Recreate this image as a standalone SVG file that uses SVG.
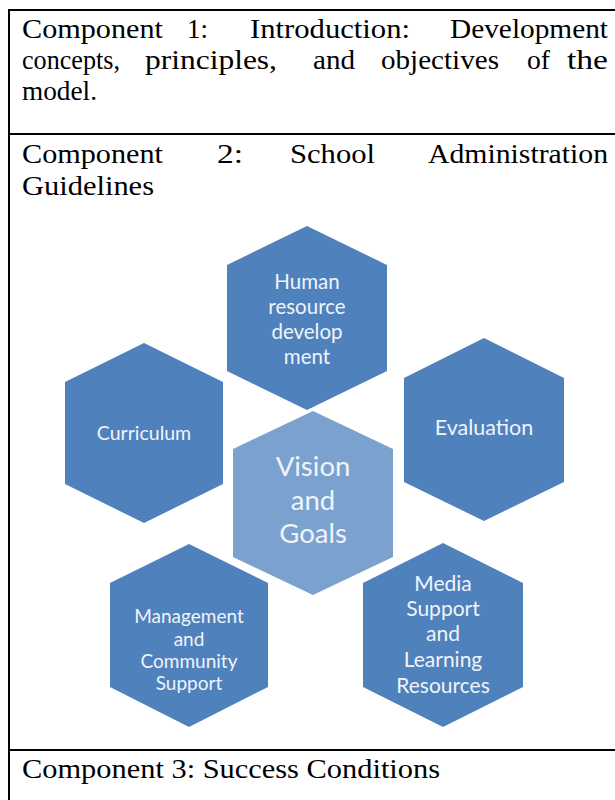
<svg xmlns="http://www.w3.org/2000/svg" width="615" height="800" viewBox="0 0 615 800">
<style>
.frame{stroke:#000;stroke-width:2;fill:none}
.t{font-family:"Liberation Serif","Times New Roman",serif;font-size:28px;fill:#000}
.hex{fill:#4F81BD}
.hexc{fill:#7BA1CE}
.lbl{font-family:Lato,"Open Sans","Liberation Sans",sans-serif;font-size:20.5px;fill:#F0F4FA;text-anchor:middle}
.lblc{font-family:Lato,"Open Sans","Liberation Sans",sans-serif;font-size:27.5px;fill:#F0F4FA;text-anchor:middle}
</style>
<rect width="615" height="800" fill="#fff"/>
<g id="table">
<line class="frame" x1="8" y1="10" x2="615" y2="10"/>
<line class="frame" x1="9" y1="9" x2="9" y2="800"/>
<line class="frame" x1="8" y1="134" x2="615" y2="134"/>
<line class="frame" x1="8" y1="750" x2="615" y2="750"/>
</g>
<g id="row1">
<text class="t" y="38" x="22" textLength="141" lengthAdjust="spacingAndGlyphs">Component</text>
<text class="t" y="38" x="187" textLength="21" lengthAdjust="spacingAndGlyphs">1:</text>
<text class="t" y="38" x="250" textLength="160" lengthAdjust="spacingAndGlyphs">Introduction:</text>
<text class="t" y="38" x="450" textLength="158" lengthAdjust="spacingAndGlyphs">Development</text>
<text class="t" y="69" x="22" textLength="98" lengthAdjust="spacingAndGlyphs">concepts,</text>
<text class="t" y="69" x="145" textLength="132" lengthAdjust="spacingAndGlyphs">principles,</text>
<text class="t" y="69" x="313" textLength="42" lengthAdjust="spacingAndGlyphs">and</text>
<text class="t" y="69" x="381" textLength="118" lengthAdjust="spacingAndGlyphs">objectives</text>
<text class="t" y="69" x="527" textLength="23" lengthAdjust="spacingAndGlyphs">of</text>
<text class="t" y="69" x="567" textLength="41" lengthAdjust="spacingAndGlyphs">the</text>
<text class="t" y="100" x="22" textLength="75" lengthAdjust="spacingAndGlyphs">model.</text>
</g>
<g id="row2">
<text class="t" y="163" x="22" textLength="141" lengthAdjust="spacingAndGlyphs">Component</text>
<text class="t" y="163" x="217" textLength="26" lengthAdjust="spacingAndGlyphs">2:</text>
<text class="t" y="163" x="290" textLength="85" lengthAdjust="spacingAndGlyphs">School</text>
<text class="t" y="163" x="428" textLength="180" lengthAdjust="spacingAndGlyphs">Administration</text>
<text class="t" y="195" x="22" textLength="132" lengthAdjust="spacingAndGlyphs">Guidelines</text>
</g>
<g id="row3">
<text class="t" y="778" x="22" textLength="418" lengthAdjust="spacingAndGlyphs">Component 3: Success Conditions</text>
</g>
<g id="connectors"></g>
<g id="human">
<polygon class="hex" points="307,226 387,265 387,371 307,410 227,371 227,265"/>
<text class="lbl" x="307" y="289">Human</text>
<text class="lbl" x="307" y="314">resource</text>
<text class="lbl" x="307" y="339">develop</text>
<text class="lbl" x="307" y="364">ment</text>
</g>
<g id="curriculum">
<polygon class="hex" points="144,343 223,382 223,484 144,523 65,484 65,382"/>
<text class="lbl" x="144" y="440" style="font-size:19.5px">Curriculum</text>
</g>
<g id="evaluation">
<polygon class="hex" points="484,338 564,378 564,482 484,521 404,482 404,378"/>
<text class="lbl" x="484" y="435" style="font-size:21.5px">Evaluation</text>
</g>
<g id="vision">
<polygon class="hexc" points="313,411 393,449 393,557 313,595 233,557 233,449"/>
<text class="lblc" x="313" y="476">Vision</text>
<text class="lblc" x="313" y="510">and</text>
<text class="lblc" x="313" y="543">Goals</text>
</g>
<g id="management">
<polygon class="hex" points="189,544 268,583 268,687 189,727 110,687 110,583"/>
<text class="lbl" x="189" y="623" style="font-size:19px">Management</text>
<text class="lbl" x="189" y="646" style="font-size:19px">and</text>
<text class="lbl" x="189" y="668" style="font-size:19px">Community</text>
<text class="lbl" x="189" y="690" style="font-size:19px">Support</text>
</g>
<g id="media">
<polygon class="hex" points="443,543 523,583 523,687 443,727 363,687 363,583"/>
<text class="lbl" x="443" y="591" style="font-size:21px">Media</text>
<text class="lbl" x="443" y="616" style="font-size:21px">Support</text>
<text class="lbl" x="443" y="641" style="font-size:21px">and</text>
<text class="lbl" x="443" y="667" style="font-size:21px">Learning</text>
<text class="lbl" x="443" y="693" style="font-size:21px">Resources</text>
</g>
</svg>
